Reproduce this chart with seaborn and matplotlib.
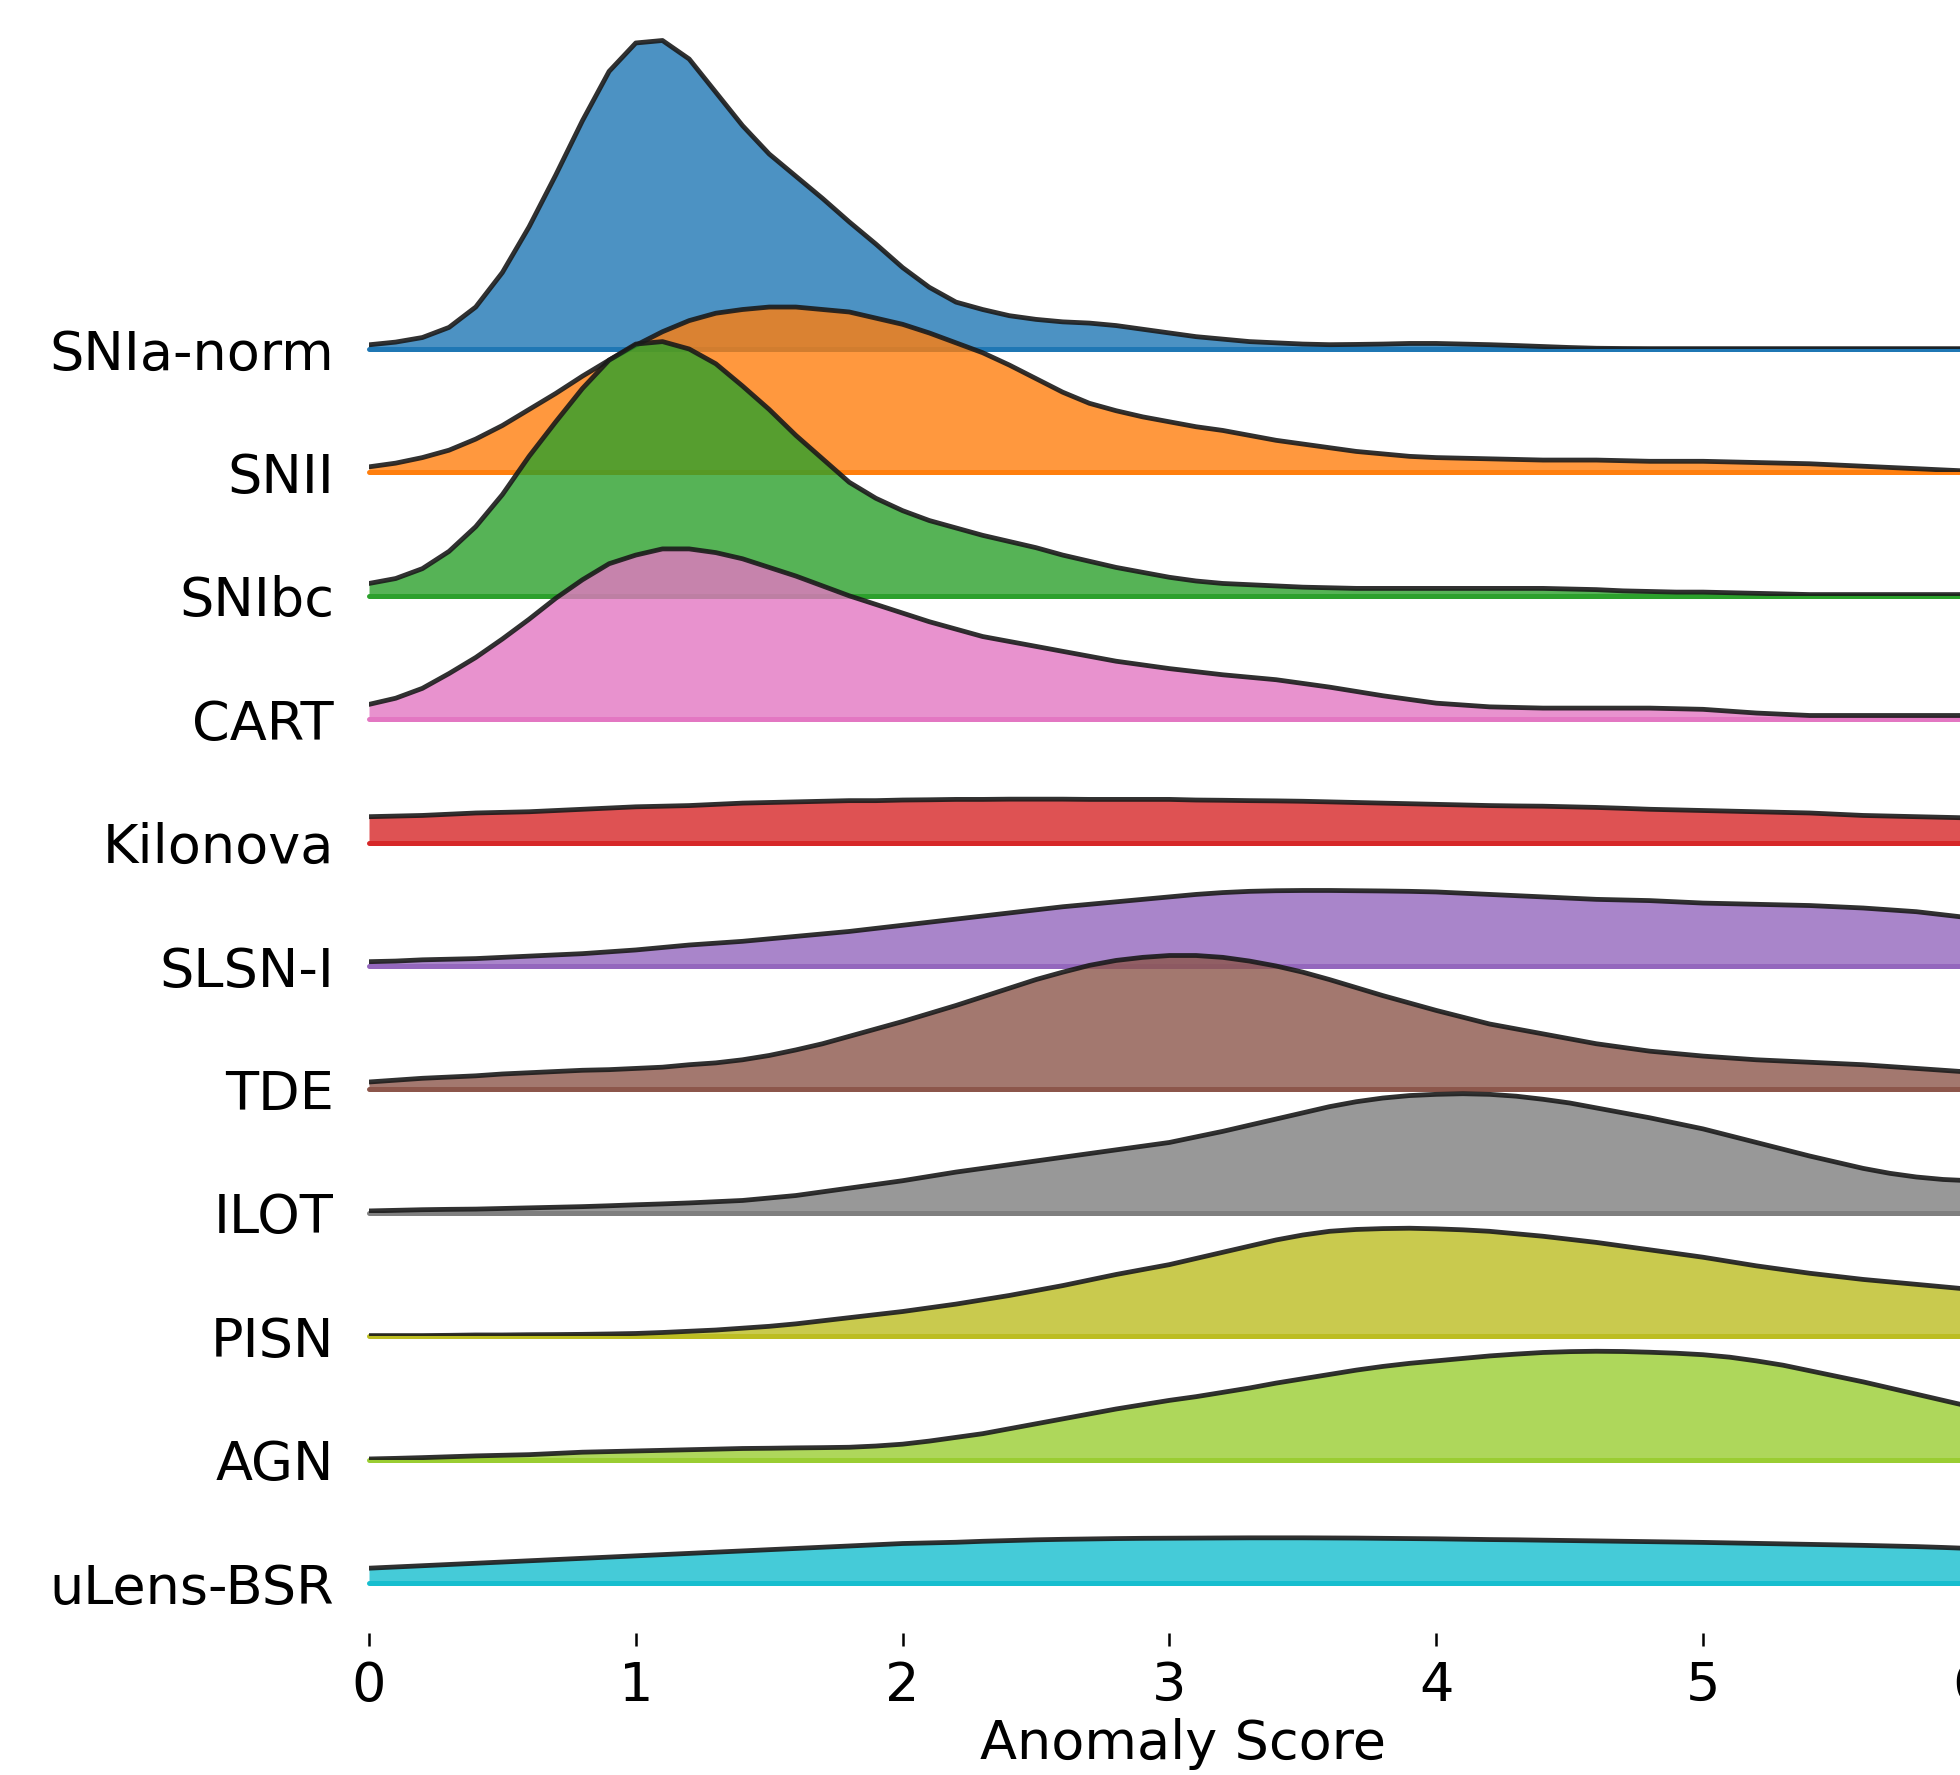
import matplotlib
matplotlib.use("Agg")
import matplotlib.pyplot as plt
import seaborn as sns

# Anomaly score grid the densities were read at
score_grid = [0.0, 0.1, 0.2, 0.3, 0.4, 0.5, 0.6, 0.7, 0.8, 0.9,
              1.0, 1.1, 1.2, 1.3, 1.4, 1.5, 1.6, 1.7, 1.8, 1.9,
              2.0, 2.1, 2.2, 2.3, 2.4, 2.5, 2.6, 2.7, 2.8, 2.9,
              3.0, 3.1, 3.2, 3.3, 3.4, 3.5, 3.6, 3.7, 3.8, 3.9,
              4.0, 4.1, 4.2, 4.3, 4.4, 4.5, 4.6, 4.7, 4.8, 4.9,
              5.0, 5.1, 5.2, 5.3, 5.4, 5.5, 5.6, 5.7, 5.8, 5.9,
              6.0]

# Density per class (same scale for every row)
snia_norm = [0.034, 0.056, 0.093, 0.175, 0.34, 0.62, 0.99, 1.41, 1.85, 2.25,
             2.48, 2.50, 2.35, 2.08, 1.81, 1.58, 1.40, 1.22, 1.03, 0.85,
             0.66, 0.50, 0.38, 0.32, 0.27, 0.24, 0.22, 0.21, 0.19, 0.16,
             0.13, 0.10, 0.08, 0.06, 0.05, 0.04, 0.035, 0.037, 0.04, 0.045,
             0.045, 0.04, 0.035, 0.028, 0.02, 0.012, 0.006, 0.004, 0.003, 0.003,
             0.003, 0.003, 0.003, 0.003, 0.003, 0.003, 0.003, 0.003, 0.003, 0.003,
             0.003]
snii = [0.045, 0.075, 0.12, 0.18, 0.27, 0.38, 0.51, 0.64, 0.78, 0.91,
        1.03, 1.14, 1.23, 1.29, 1.32, 1.34, 1.34, 1.32, 1.30, 1.25,
        1.20, 1.13, 1.05, 0.97, 0.87, 0.76, 0.65, 0.56, 0.50, 0.45,
        0.41, 0.37, 0.34, 0.30, 0.26, 0.23, 0.20, 0.17, 0.15, 0.13,
        0.12, 0.115, 0.11, 0.105, 0.10, 0.10, 0.10, 0.095, 0.09, 0.09,
        0.09, 0.085, 0.08, 0.075, 0.07, 0.06, 0.05, 0.04, 0.03, 0.02,
        0.01]
snibc = [0.10, 0.14, 0.22, 0.36, 0.56, 0.82, 1.13, 1.41, 1.68, 1.91,
         2.04, 2.06, 2.00, 1.88, 1.70, 1.51, 1.30, 1.11, 0.92, 0.79,
         0.69, 0.61, 0.55, 0.49, 0.44, 0.39, 0.33, 0.28, 0.23, 0.19,
         0.15, 0.12, 0.10, 0.09, 0.08, 0.07, 0.065, 0.06, 0.06, 0.06,
         0.06, 0.06, 0.06, 0.06, 0.06, 0.055, 0.05, 0.04, 0.035, 0.03,
         0.03, 0.025, 0.02, 0.015, 0.01, 0.01, 0.01, 0.01, 0.01, 0.01,
         0.01]
cart = [0.12, 0.17, 0.25, 0.37, 0.50, 0.65, 0.81, 0.98, 1.13, 1.26,
        1.33, 1.38, 1.38, 1.35, 1.30, 1.23, 1.16, 1.08, 1.00, 0.93,
        0.86, 0.79, 0.73, 0.67, 0.63, 0.59, 0.55, 0.51, 0.47, 0.44,
        0.41, 0.385, 0.36, 0.34, 0.32, 0.29, 0.26, 0.225, 0.19, 0.16,
        0.13, 0.115, 0.10, 0.095, 0.09, 0.09, 0.09, 0.09, 0.09, 0.085,
        0.08, 0.065, 0.05, 0.04, 0.03, 0.03, 0.03, 0.03, 0.03, 0.03,
        0.03]
kilonova = [0.21, 0.215, 0.22, 0.23, 0.24, 0.245, 0.25, 0.26, 0.27, 0.28,
            0.29, 0.295, 0.30, 0.31, 0.32, 0.325, 0.33, 0.335, 0.34, 0.34,
            0.345, 0.347, 0.35, 0.35, 0.352, 0.352, 0.352, 0.35, 0.35, 0.35,
            0.35, 0.345, 0.343, 0.34, 0.338, 0.335, 0.33, 0.325, 0.32, 0.315,
            0.31, 0.305, 0.30, 0.297, 0.295, 0.29, 0.285, 0.278, 0.27, 0.265,
            0.26, 0.255, 0.25, 0.245, 0.24, 0.23, 0.22, 0.215, 0.21, 0.205,
            0.20]
slsn_i = [0.035, 0.04, 0.05, 0.055, 0.06, 0.07, 0.08, 0.09, 0.10, 0.115,
          0.13, 0.15, 0.17, 0.185, 0.20, 0.22, 0.24, 0.26, 0.28, 0.305,
          0.33, 0.355, 0.38, 0.405, 0.43, 0.455, 0.48, 0.50, 0.52, 0.54,
          0.56, 0.58, 0.595, 0.605, 0.61, 0.612, 0.612, 0.61, 0.608, 0.605,
          0.60, 0.59, 0.58, 0.57, 0.56, 0.55, 0.54, 0.535, 0.53, 0.52,
          0.51, 0.505, 0.50, 0.495, 0.49, 0.48, 0.47, 0.455, 0.44, 0.415,
          0.39]
tde = [0.06, 0.075, 0.09, 0.10, 0.11, 0.125, 0.135, 0.145, 0.155, 0.16,
       0.17, 0.18, 0.20, 0.215, 0.24, 0.275, 0.32, 0.37, 0.43, 0.49,
       0.55, 0.615, 0.68, 0.75, 0.82, 0.89, 0.95, 1.005, 1.045, 1.07,
       1.085, 1.085, 1.07, 1.04, 1.00, 0.95, 0.89, 0.825, 0.76, 0.70,
       0.64, 0.585, 0.53, 0.49, 0.45, 0.41, 0.37, 0.34, 0.31, 0.29,
       0.27, 0.255, 0.24, 0.23, 0.22, 0.21, 0.20, 0.185, 0.17, 0.155,
       0.14]
ilot = [0.015, 0.02, 0.025, 0.028, 0.03, 0.035, 0.04, 0.045, 0.05, 0.057,
        0.065, 0.072, 0.08, 0.09, 0.10, 0.12, 0.14, 0.17, 0.20, 0.23,
        0.26, 0.295, 0.33, 0.36, 0.39, 0.42, 0.45, 0.48, 0.51, 0.54,
        0.57, 0.615, 0.66, 0.71, 0.76, 0.81, 0.86, 0.90, 0.93, 0.95,
        0.96, 0.965, 0.96, 0.945, 0.92, 0.89, 0.85, 0.81, 0.77, 0.725,
        0.68, 0.625, 0.57, 0.515, 0.46, 0.41, 0.36, 0.32, 0.29, 0.27,
        0.26]
pisn = [0.005, 0.005, 0.005, 0.007, 0.01, 0.01, 0.012, 0.013, 0.015, 0.018,
        0.022, 0.03, 0.04, 0.05, 0.065, 0.08, 0.10, 0.125, 0.15, 0.175,
        0.20, 0.23, 0.26, 0.295, 0.33, 0.37, 0.41, 0.455, 0.50, 0.54,
        0.58, 0.63, 0.68, 0.73, 0.78, 0.82, 0.85, 0.865, 0.872, 0.875,
        0.87, 0.862, 0.85, 0.83, 0.81, 0.785, 0.76, 0.73, 0.70, 0.67,
        0.64, 0.605, 0.57, 0.54, 0.51, 0.485, 0.46, 0.44, 0.42, 0.40,
        0.38]
agn = [0.005, 0.01, 0.016, 0.023, 0.03, 0.035, 0.04, 0.05, 0.06, 0.065,
       0.07, 0.075, 0.08, 0.085, 0.09, 0.092, 0.095, 0.097, 0.10, 0.11,
       0.125, 0.15, 0.18, 0.21, 0.25, 0.29, 0.33, 0.37, 0.41, 0.445,
       0.48, 0.51, 0.545, 0.58, 0.62, 0.655, 0.69, 0.725, 0.755, 0.78,
       0.80, 0.82, 0.84, 0.855, 0.868, 0.875, 0.878, 0.876, 0.87, 0.862,
       0.85, 0.83, 0.80, 0.765, 0.72, 0.675, 0.63, 0.58, 0.53, 0.48,
       0.43]
ulens_bsr = [0.12, 0.13, 0.14, 0.15, 0.16, 0.17, 0.18, 0.19, 0.20, 0.21,
             0.22, 0.23, 0.24, 0.25, 0.26, 0.27, 0.28, 0.29, 0.30, 0.31,
             0.32, 0.325, 0.33, 0.338, 0.344, 0.35, 0.354, 0.357, 0.36, 0.362,
             0.363, 0.364, 0.365, 0.366, 0.366, 0.366, 0.365, 0.364, 0.362, 0.36,
             0.358, 0.355, 0.352, 0.35, 0.347, 0.344, 0.341, 0.338, 0.335, 0.332,
             0.329, 0.325, 0.321, 0.317, 0.313, 0.309, 0.305, 0.30, 0.295, 0.288,
             0.28]

classes = ["SNIa-norm", "SNII", "SNIbc", "CART", "Kilonova", "SLSN-I",
           "TDE", "ILOT", "PISN", "AGN", "uLens-BSR"]
densities = [snia_norm, snii, snibc, cart, kilonova, slsn_i,
             tde, ilot, pisn, agn, ulens_bsr]
class_colors = ["#1f77b4", "#ff7f0e", "#2ca02c", "#e377c2", "#d62728", "#9467bd",
                "#8c564b", "#7f7f7f", "#bcbd22", "#9acd32", "#17becf"]
x_ticks = [0, 1, 2, 3, 4, 5, 6]

sns.set_theme(style="white", rc={"axes.facecolor": (0, 0, 0, 0)})
plt.rcParams["font.family"] = ["DejaVu Sans"]

# Layout in pixels (figure is 1960 x 1775 at 300 dpi)
W, H = 1960, 1775
left_px = 369
unit_px = 266.8
x_max = 6.1
row_px = 123.4
first_base = 349
y_top = 2.7

fig = plt.figure(figsize=(W / 300, H / 300), dpi=300)

n = len(classes)
for i, (name, dens, col) in enumerate(zip(classes, densities, class_colors)):
    base = first_base + i * row_px
    ax = fig.add_axes([left_px / W, 1 - base / H, unit_px * x_max / W, y_top * row_px / H])

    ax.fill_between(score_grid, dens, color=col, alpha=0.8, lw=0)
    ax.axhline(0, color=col, lw=1.2, clip_on=False)
    sns.lineplot(x=score_grid, y=dens, ax=ax, color="k", lw=1.15, alpha=0.9)

    ax.set_xlim(0, x_max)
    ax.set_ylim(0, y_top)
    ax.set_yticks([])
    ax.set_ylabel("")
    ax.text(-0.131, 0, name, ha="right", va="center_baseline",
            fontsize=13, color="black", clip_on=False)
    sns.despine(ax=ax, left=True, bottom=True)

    if i < n - 1:
        ax.set_xticks([])
        ax.set_xlabel("")
    else:
        ax.spines["bottom"].set_position(("outward", 12))
        ax.set_xticks(x_ticks)
        ax.tick_params(axis="x", bottom=True, direction="out", length=3, width=0.6,
                       pad=3.5, labelsize=13, color="black", labelcolor="black")
        ax.set_xlabel("Anomaly Score", fontsize=13, color="black", labelpad=1.5)

plt.savefig("out.png", dpi=300)
